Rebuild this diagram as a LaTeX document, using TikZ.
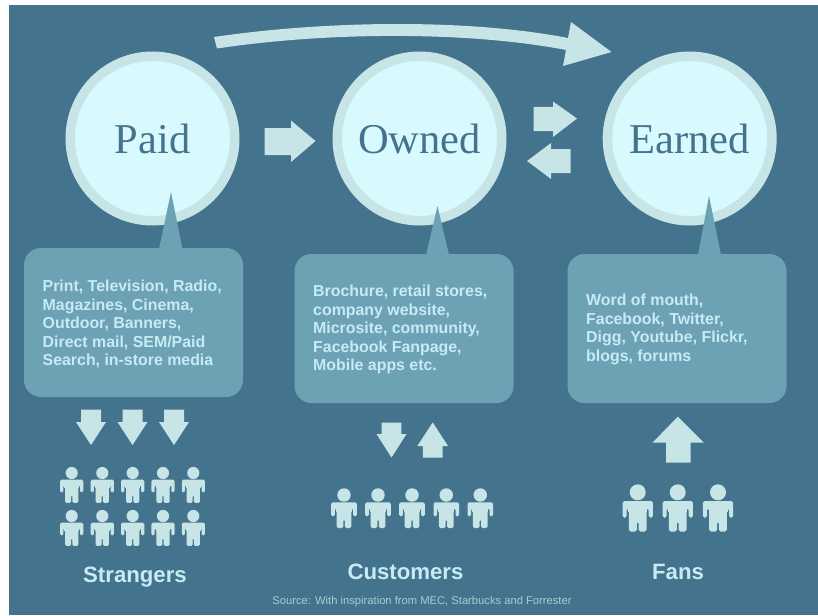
\documentclass[tikz,border=0pt]{standalone}
\usepackage{fontspec}
\setmainfont{Liberation Sans}
\newfontfamily\headserif{Liberation Serif}
\definecolor{bgblue}{HTML}{44738D}
\definecolor{ringc}{HTML}{C7E5E6}
\definecolor{innerc}{HTML}{D8FAFE}
\definecolor{boxc}{HTML}{6DA2B5}
\definecolor{textc}{HTML}{C6EBF5}
\definecolor{srcc}{HTML}{A9CBD6}
\tikzset{
  bubble/.style={circle,draw=ringc,line width=9.5pt,fill=innerc,minimum size=164.5pt,inner sep=0pt,text=bgblue,font=\headserif\fontsize{42.5}{42.5}\selectfont},
  infobox/.style={rectangle,fill=boxc,rounded corners=17pt,minimum width=219pt,minimum height=149pt,inner sep=0pt},
  spike/.style={fill=boxc},
  shape arrow/.style={fill=ringc},
  infotext/.style={anchor=north west,inner sep=0pt,align=left,text=textc,font=\bfseries\fontsize{15.9}{18.5}\selectfont},
  grouplabel/.style={inner sep=0pt,text=textc,font=\bfseries\fontsize{22.2}{26}\selectfont},
  sourcetext/.style={inner sep=0pt,text=srcc,font=\fontsize{11.2}{13}\selectfont}
}
% \personfig{x}{y of head centre}{scale}
\newcommand{\personfig}[3]{%
  \begin{scope}[shift={(#1,#2)},x=#3*1pt,y=-#3*1pt]
    \fill[ringc] (0,0) circle (8);
    \fill[ringc,rounded corners=#3*1.9pt]
      (-15.2,8.7) -- (15.2,8.7) -- (15.2,25.5) -- (11,25.5) -- (11,16) -- (8.8,16)
      -- (8.8,39.4) -- (0.9,39.4) -- (0.9,29) -- (-0.9,29) -- (-0.9,39.4) -- (-8.8,39.4)
      -- (-8.8,16) -- (-11,16) -- (-11,25.5) -- (-15.2,25.5) -- cycle;
    \fill[ringc] (-9.5,9.5) rectangle (9.5,20);
  \end{scope}}
\begin{document}
\begin{tikzpicture}[x=1pt,y=-1pt]
\useasboundingbox (0,0) rectangle (818,615);
\fill[white] (0,0) rectangle (818,615);
\fill[bgblue] (9,5) rectangle (818,615);

% big arc arrow
\fill[ringc] (214,37) .. controls (330,20) and (470,19) .. (568,38)
  -- (571,22) -- (611.5,52) -- (563,66) -- (566,50)
  .. controls (470,31.5) and (330,31.5) .. (217,48.5) -- cycle;

% circles
\node[bubble] (paid) at (152.5,138.5) {Paid};
\node[bubble] (owned) at (419.5,138.5) {Owned};
\node[bubble] (earned) at (689.7,138.5) {Earned};

% info boxes
\node[infobox] (boxpaid) at (133.5,322.5) {};
\node[infobox] (boxowned) at (404,328.5) {};
\node[infobox] (boxearned) at (677,328.5) {};
\fill[spike] (159,249) -- (171,192) -- (182.5,249) -- cycle;
\fill[spike] (426,255) -- (437.5,206) -- (449,255) -- cycle;
\fill[spike] (698,255) -- (709,196) -- (721,255) -- cycle;

\node[infotext] (txtpaid) at (42.5,280) {Print, Television, Radio,\\Magazines, Cinema,\\Outdoor, Banners,\\Direct mail, SEM/Paid\\Search, in-store media};
\node[infotext] (txtowned) at (313,285) {Brochure, retail stores,\\company website,\\Microsite, community,\\Facebook Fanpage,\\Mobile apps etc.};
\node[infotext] (txtearned) at (586,294) {Word of mouth,\\Facebook, Twitter,\\Digg, Youtube, Flickr,\\blogs, forums};

% horizontal arrows
\fill[shape arrow] (264.5,128) -- (291,128) -- (291,120.5) -- (315.5,141) -- (291,162) -- (291,155) -- (264.5,155) -- cycle;
\fill[shape arrow] (533.5,107) -- (553,107) -- (553,101.5) -- (577,118.5) -- (553,137) -- (553,131) -- (533.5,131) -- cycle;
\fill[shape arrow] (570.5,149) -- (551,149) -- (551,143) -- (527,161) -- (551,179) -- (551,173) -- (570.5,173) -- cycle;

% vertical arrows, strangers
\foreach \cx in {91,132.5,174}{
  \fill[shape arrow] (\cx-10,409.5) -- (\cx+10,409.5) -- (\cx+10,422) -- (\cx+15,422) -- (\cx,445) -- (\cx-15,422) -- (\cx-10,422) -- cycle;
}
% customers
\fill[shape arrow] (381.7,422.5) -- (401.3,422.5) -- (401.3,434) -- (406.5,434) -- (391.5,457.5) -- (376.5,434) -- (381.7,434) -- cycle;
\fill[shape arrow] (422.8,457.5) -- (442.5,457.5) -- (442.5,446) -- (448,446) -- (432.7,422.5) -- (417.3,446) -- (422.8,446) -- cycle;
% fans
\fill[shape arrow] (666,462.5) -- (690.5,462.5) -- (690.5,442.5) -- (703.5,442.5) -- (677.8,416.7) -- (652.7,442.5) -- (666,442.5) -- cycle;

% people
\foreach \px in {71.7,102.3,132.7,163,193.3}{
  \personfig{\px}{473}{0.76}
  \personfig{\px}{516}{0.76}
}
\foreach \px in {344,378,412,446.3,480.3}{
  \personfig{\px}{495}{0.84}
}
\foreach \px in {637.7,677.7,718}{
  \personfig{\px}{492.3}{1}
}

% labels
\node[grouplabel] (lblstrangers) at (135,577) {Strangers};
\node[grouplabel] (lblcustomers) at (405.5,572) {Customers};
\node[grouplabel] (lblfans) at (678,572) {Fans};
\node[sourcetext] (lblsource) at (422,602) {Source: With inspiration from MEC, Starbucks and Forrester};
\end{tikzpicture}
\end{document}
